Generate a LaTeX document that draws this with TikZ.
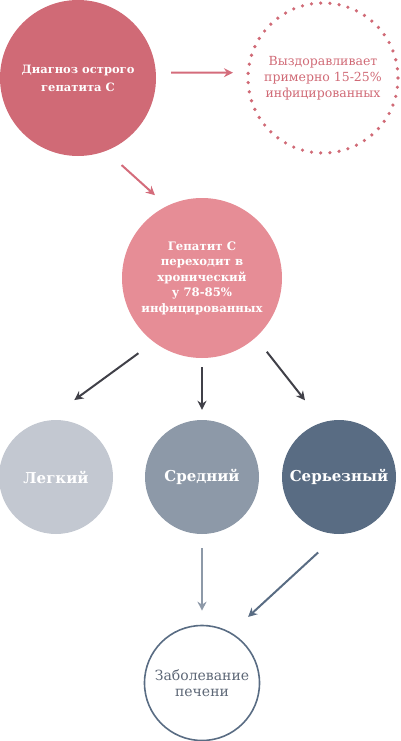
\documentclass[tikz,border=0pt]{standalone}
\usepackage{fontspec}
\setmainfont{DejaVu Serif}
\usetikzlibrary{arrows.meta,positioning}
\definecolor{rose}{HTML}{D06A76}
\definecolor{lightrose}{HTML}{E68D96}
\definecolor{arrowrose}{HTML}{D46C7B}
\definecolor{darkarrow}{HTML}{404048}
\definecolor{mildgray}{HTML}{C3C8D1}
\definecolor{midgray}{HTML}{8D99A8}
\definecolor{slate}{HTML}{596C83}
\definecolor{livertext}{HTML}{5D6776}

\begin{document}
\begin{tikzpicture}[x=1pt, y=-1pt, node distance=146pt, auto,
    blob/.style={circle, inner sep=0pt, align=center, text=white},
    tip/.style={-{Stealth[length=9pt,width=9pt]}, line width=2pt}]
  \useasboundingbox (0,0) rectangle (400,741);
      \node (acute) [blob, fill=rose, minimum size=156pt, font=\bfseries\fontsize{11.5}{18}\selectfont] at (78,78) {Диагноз острого\\гепатита С};
      \node (recover) [right of=acute, node distance=245pt, blob, minimum size=150pt, text=rose, font=\fontsize{12.5}{16}\selectfont] {Выздоравливает\\примерно 15-25\%\\инфицированных};
      \draw [rose, line width=3.6pt, line cap=round, dash pattern=on 0pt off 9.24pt] (recover.center) circle (75pt);
      \node (chronic) [blob, fill=lightrose, minimum size=160pt, font=\bfseries\fontsize{11.7}{15.5}\selectfont] at (202,278) {Гепатит С\\переходит в\\хронический\\у 78-85\%\\инфицированных};
      \node (moderate) [below of=chronic, node distance=199pt, blob, fill=midgray, minimum size=114pt, font=\bfseries\fontsize{15}{18}\selectfont] {Средний};
      \node (mild) [left of=moderate, blob, fill=mildgray, minimum size=114pt, font=\bfseries\fontsize{15}{18}\selectfont] {Легкий};
      \node (severe) [right of=moderate, node distance=137pt, blob, fill=slate, minimum size=114pt, font=\bfseries\fontsize{15}{18}\selectfont] {Серьезный};
      \node (liver) [below of=moderate, node distance=206pt, blob, draw=slate, line width=1.6pt, minimum size=115pt, text=livertext, font=\fontsize{14}{15.5}\selectfont] {Заболевание\\печени};
    % arrows
    \draw [tip, arrowrose, shorten <=15pt, shorten >=15pt] (acute.4) to (recover.176);
    \draw [tip, arrowrose, shorten <=21pt, shorten >=16pt] (acute.-69) to (chronic.116);
    \draw [tip, darkarrow, shorten <=19pt, shorten >=35pt] (chronic.233) to (mild.100);
    \draw [tip, darkarrow, shorten <=9pt, shorten >=10pt] (chronic.south) to (moderate.north);
    \draw [tip, darkarrow, shorten <=18pt, shorten >=28pt] (chronic.-48) to (severe.107);
    \draw [tip, midgray, shorten <=14pt, shorten >=14pt] (moderate.south) to (liver.north);
    \draw [tip, slate, shorten <=27pt, shorten >=23pt] (severe.-91) to (liver.60);
      \end{tikzpicture}
\end{document}
